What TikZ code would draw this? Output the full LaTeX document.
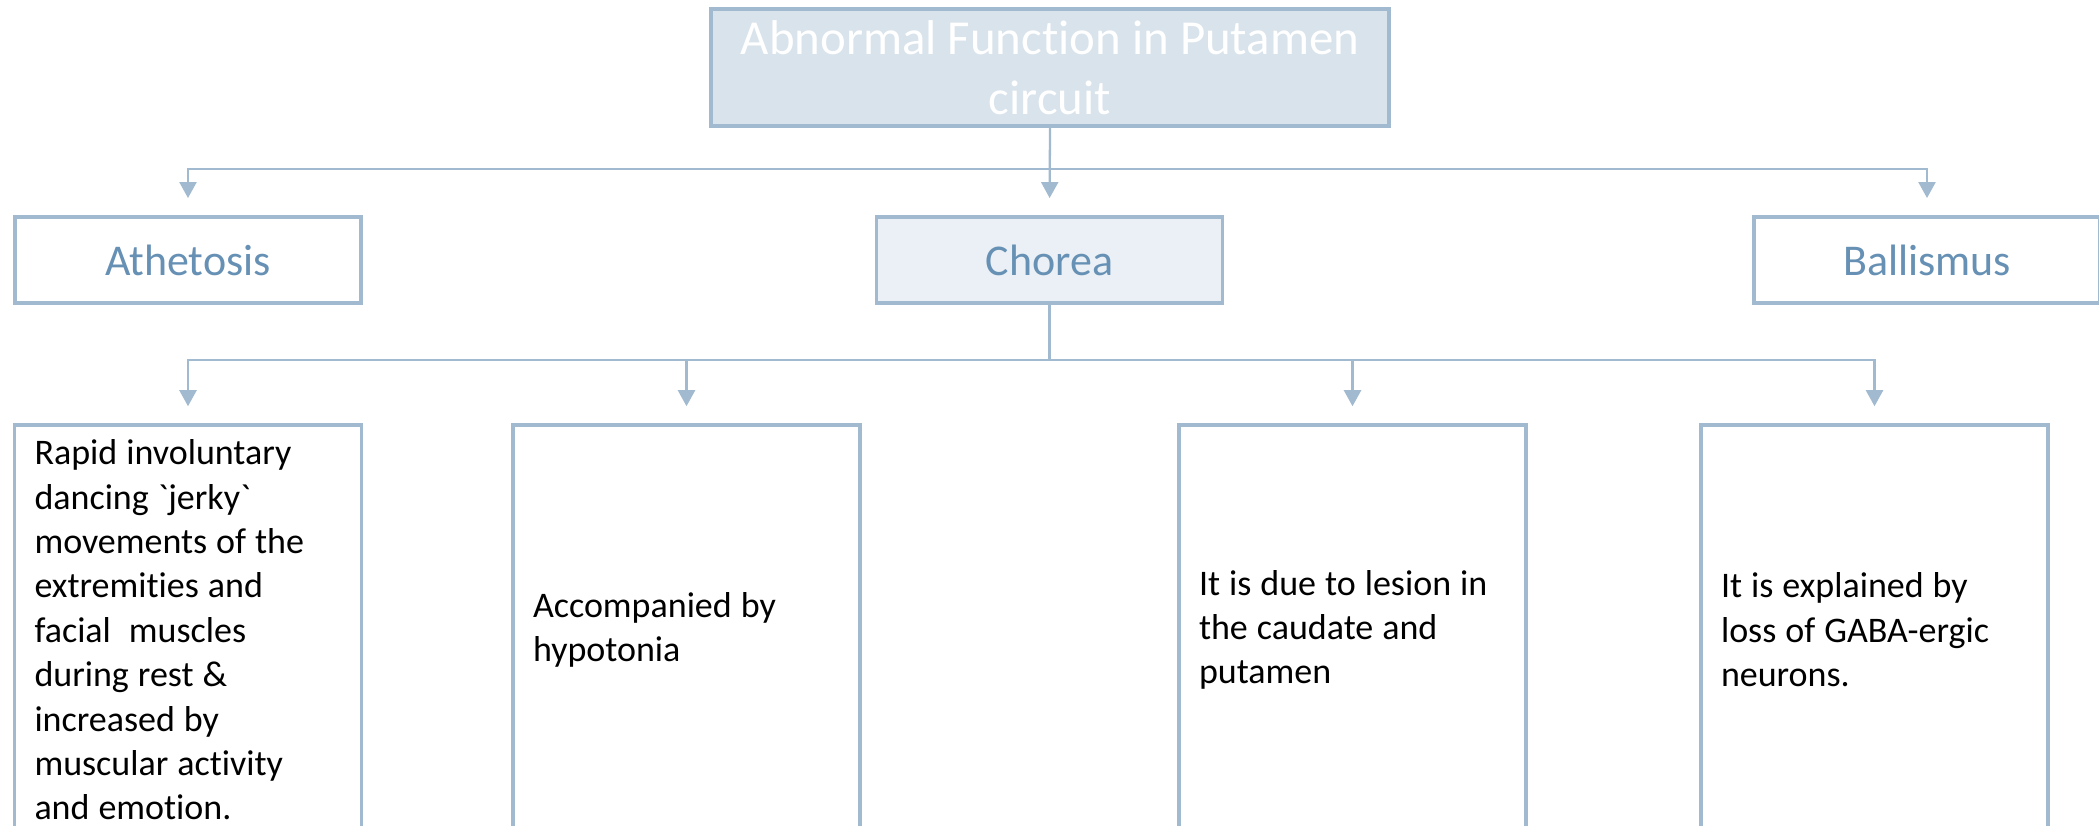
\documentclass[tikz,border=0pt]{standalone}
\usepackage{fontspec}
\setmainfont[Ligatures=NoCommon]{Carlito}
\usepackage{tikz}
\usetikzlibrary{arrows.meta}
\definecolor{Frame}{HTML}{A2BAD0}
\definecolor{TitleFill}{HTML}{D9E3EC}
\definecolor{ChoreaFill}{HTML}{EAF0F5}
\definecolor{Label}{HTML}{6690B4}

\begin{document}
\begin{tikzpicture}[
  titlebox/.style={draw=Frame,fill=TitleFill,line width=1.1pt,minimum width=6.78cm,minimum height=1.17cm,
    align=center,text=white,font=\fontsize{13.9}{17.1}\selectfont},
  kindbox/.style={draw=Frame,fill=white,line width=1.1pt,minimum width=3.46cm,minimum height=0.86cm,
    text=Label,font=\fontsize{12.5}{15}\selectfont},
  notebox/.style={draw=Frame,line width=1pt,text width=3.07cm,inner xsep=0.2cm,minimum height=4.1cm,
    align=flush left,font=\fontsize{10.24}{12.63}\selectfont,
    execute at begin node={\spaceskip=0.25em\relax}},
  link/.style={draw=Frame,line width=0.65pt,-{Triangle[width=0.17cm,length=0.16cm]},shorten >=0.17cm}]
\useasboundingbox (0,0) rectangle (20.99,-8.26);
\clip (0,0) rectangle (20.99,-8.26);
\node[titlebox] (top) at (10.50,-0.675) {Abnormal Function in Putamen\\circuit};
\node[kindbox] (athetosis) at (1.88,-2.60) {Athetosis};
\node[kindbox,fill=ChoreaFill] (chorea) at (10.495,-2.60) {Chorea};
\node[kindbox] (ballismus) at (19.27,-2.60) {Ballismus};
\node[notebox] (jerky) at (1.88,-6.30) {Rapid involuntary\\dancing \textasciigrave jerky\textasciigrave\\movements of the\\extremities and\\facial\ \ muscles\\during rest \&\\increased by\\muscular activity\\and emotion.};
\node[notebox] (tone) at (6.865,-6.30) {Accompanied by\\hypotonia};
\node[notebox] (lesion) at (13.525,-6.30) {It is due to lesion in\\the caudate and\\putamen};
\node[notebox] (gaba) at (18.745,-6.30) {It is explained by\\loss of GABA-ergic\\neurons.};
\draw[link] (top.south) -- ++(0,-0.41) -| (athetosis.north);
\draw[link] (top.south) -- (chorea.north);
\draw[link] (top.south) -- ++(0,-0.41) -| (ballismus.north);
\foreach \n in {jerky,tone,lesion,gaba}
  \draw[link] (chorea.south) -- ++(0,-0.55) -| (\n.north);
\end{tikzpicture}
\end{document}
